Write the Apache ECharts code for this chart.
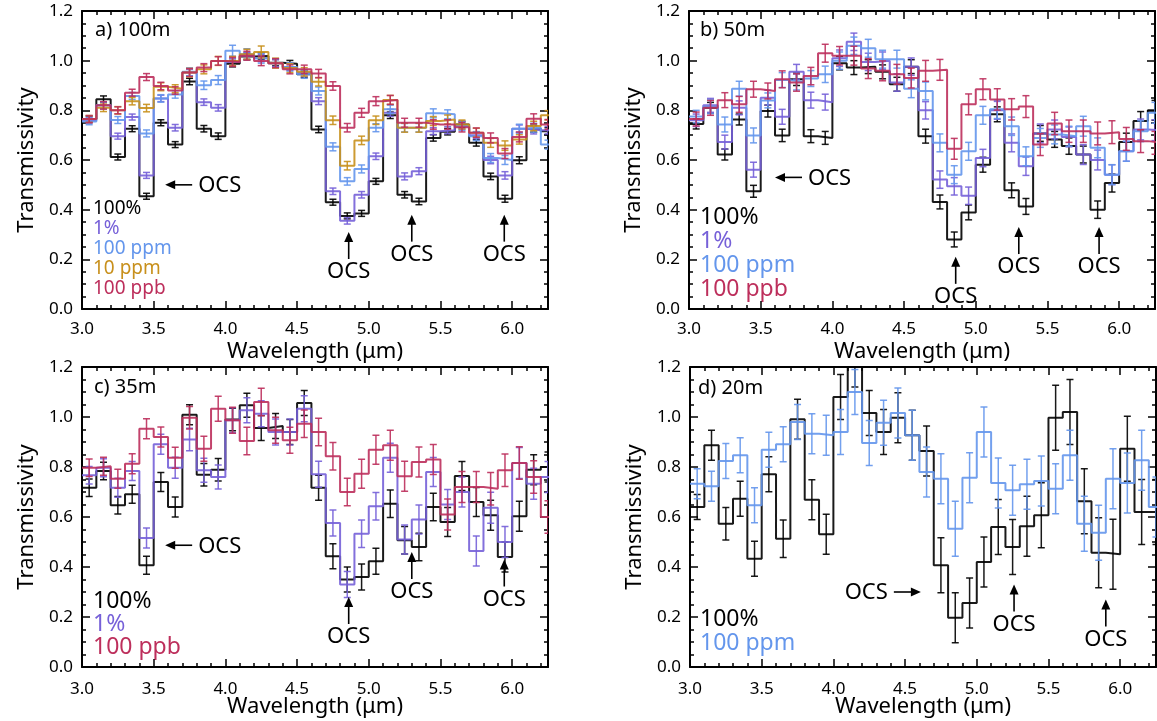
<!DOCTYPE html>
<html><head><meta charset="utf-8">
<script src="https://cdn.jsdelivr.net/npm/echarts@6/dist/echarts.min.js"></script>
<style>html,body{margin:0;padding:0;background:#fff}#c{width:1157px;height:721px}</style>
</head><body><div id="c"></div><script>
// ---------- DATA ----------
const binCenters = [3.05,3.15,3.25,3.35,3.45,3.55,3.65,3.75,3.85,3.95,
  4.05,4.15,4.25,4.35,4.45,4.55,4.65,4.75,4.85,4.95,
  5.05,5.15,5.25,5.35,5.45,5.55,5.65,5.75,5.85,5.95,
  6.05,6.15,6.25];
const binWidth = 0.1;
const xTicks = [3.0,3.5,4.0,4.5,5.0,5.5,6.0];
const yTicks = [0.0,0.2,0.4,0.6,0.8,1.0,1.2];
const panelTitles = ['a) 100m','b) 50m','c) 35m','d) 20m'];

// panel a (100 m)
const a_100pct = [0.765,0.845,0.612,0.726,0.454,0.750,0.662,0.916,0.726,0.696,
  0.988,1.017,1.019,0.992,0.988,0.945,0.723,0.430,0.375,0.385,
  0.514,0.780,0.460,0.433,0.689,0.714,0.743,0.669,0.534,0.444,
  0.599,0.726,0.716];
const a_1pct = [0.760,0.820,0.696,0.773,0.538,0.848,0.730,0.952,0.833,0.810,
  0.995,1.020,1.010,0.990,0.975,0.950,0.837,0.474,0.355,0.460,
  0.615,0.790,0.534,0.555,0.716,0.720,0.737,0.700,0.600,0.538,
  0.726,0.720,0.720];
const a_100ppm = [0.755,0.820,0.761,0.858,0.707,0.848,0.864,0.955,0.901,0.922,
  1.040,1.026,1.010,0.990,0.975,0.945,0.878,0.653,0.514,0.564,
  0.730,0.804,0.730,0.730,0.788,0.784,0.737,0.696,0.608,0.600,
  0.726,0.730,0.662];
const a_10ppm = [0.765,0.810,0.800,0.837,0.809,0.895,0.887,0.952,0.965,0.999,
  0.999,1.026,1.035,0.990,0.970,0.955,0.915,0.760,0.577,0.679,
  0.760,0.842,0.730,0.730,0.757,0.763,0.743,0.710,0.669,0.658,
  0.683,0.737,0.780];
const a_100ppb = [0.765,0.820,0.800,0.871,0.934,0.898,0.880,0.952,0.972,0.999,
  0.995,1.020,0.999,0.990,0.965,0.965,0.948,0.898,0.730,0.790,
  0.837,0.842,0.750,0.750,0.743,0.743,0.732,0.710,0.689,0.626,
  0.693,0.766,0.743];
const a_100pct_err = [0.012,0.013,0.012,0.012,0.012,0.012,0.012,0.013,0.013,0.013,
  0.013,0.013,0.013,0.013,0.013,0.013,0.013,0.012,0.012,0.012,
  0.012,0.013,0.013,0.013,0.013,0.013,0.013,0.013,0.013,0.014,
  0.014,0.014,0.014];
const a_1pct_err = [0.012,0.013,0.012,0.012,0.012,0.013,0.013,0.013,0.013,0.013,
  0.014,0.014,0.014,0.014,0.014,0.014,0.014,0.013,0.013,0.013,
  0.013,0.014,0.014,0.014,0.014,0.014,0.014,0.014,0.015,0.015,
  0.015,0.015,0.015];
const a_100ppm_err = [0.013,0.014,0.014,0.014,0.014,0.015,0.015,0.016,0.017,0.018,
  0.022,0.022,0.020,0.018,0.017,0.016,0.016,0.016,0.015,0.016,
  0.016,0.017,0.017,0.017,0.018,0.018,0.018,0.018,0.018,0.018,
  0.018,0.018,0.018];
const a_10ppm_err = [0.014,0.015,0.015,0.015,0.015,0.016,0.016,0.017,0.018,0.018,
  0.018,0.020,0.024,0.020,0.018,0.017,0.017,0.017,0.017,0.017,
  0.017,0.018,0.018,0.018,0.018,0.018,0.018,0.018,0.018,0.019,
  0.019,0.019,0.019];
const a_100ppb_err = [0.014,0.015,0.014,0.014,0.014,0.015,0.015,0.016,0.016,0.017,
  0.018,0.018,0.019,0.018,0.018,0.017,0.017,0.017,0.017,0.018,
  0.018,0.018,0.018,0.018,0.019,0.019,0.019,0.019,0.020,0.020,
  0.020,0.020,0.020];

// panel b (50 m)
const b_100pct = [0.745,0.810,0.622,0.763,0.474,0.797,0.699,0.925,0.696,0.689,
  0.990,0.972,0.976,0.955,0.905,0.976,0.696,0.431,0.280,0.389,
  0.581,0.784,0.478,0.413,0.707,0.683,0.656,0.622,0.400,0.507,
  0.672,0.757,0.800];
const b_1pct = [0.760,0.820,0.672,0.810,0.561,0.851,0.774,0.955,0.841,0.833,
  1.010,1.076,0.995,1.000,0.912,0.976,0.800,0.521,0.494,0.456,
  0.608,0.800,0.669,0.575,0.707,0.723,0.693,0.622,0.600,0.541,
  0.635,0.723,0.720];
const b_100ppm = [0.775,0.815,0.743,0.887,0.699,0.840,0.922,0.914,0.928,0.945,
  1.000,1.060,1.050,1.006,1.006,0.887,0.878,0.669,0.541,0.635,
  0.780,0.804,0.736,0.615,0.689,0.703,0.696,0.736,0.649,0.541,
  0.635,0.716,0.790];
const b_100ppb = [0.765,0.810,0.841,0.824,0.885,0.878,0.925,0.912,0.938,1.030,
  1.020,1.020,0.968,0.959,0.945,0.930,0.959,0.963,0.645,0.824,
  0.885,0.844,0.804,0.815,0.662,0.747,0.716,0.716,0.707,0.712,
  0.685,0.676,0.669];
const b_100pct_err = [0.020,0.022,0.022,0.022,0.024,0.024,0.025,0.025,0.026,0.026,
  0.027,0.028,0.028,0.028,0.028,0.028,0.028,0.028,0.030,0.030,
  0.030,0.030,0.030,0.032,0.032,0.032,0.033,0.034,0.035,0.036,
  0.036,0.038,0.040];
const b_1pct_err = [0.025,0.028,0.028,0.028,0.030,0.030,0.030,0.030,0.032,0.032,
  0.033,0.035,0.035,0.035,0.035,0.035,0.035,0.035,0.035,0.035,
  0.035,0.036,0.036,0.037,0.038,0.038,0.040,0.040,0.040,0.040,
  0.040,0.042,0.042];
const b_100ppm_err = [0.025,0.028,0.030,0.030,0.030,0.030,0.030,0.032,0.032,0.033,
  0.035,0.035,0.036,0.036,0.036,0.036,0.036,0.036,0.036,0.036,
  0.036,0.037,0.037,0.038,0.038,0.038,0.040,0.040,0.040,0.040,
  0.040,0.042,0.042];
const b_100ppb_err = [0.028,0.030,0.030,0.032,0.032,0.032,0.034,0.035,0.035,0.036,
  0.037,0.038,0.040,0.040,0.040,0.040,0.042,0.042,0.042,0.042,
  0.042,0.043,0.043,0.044,0.044,0.045,0.045,0.045,0.046,0.046,
  0.046,0.046,0.046];

// panel c (35 m)
const c_100pct = [0.717,0.784,0.647,0.691,0.407,0.740,0.640,1.009,0.769,0.789,
  0.990,1.047,0.956,0.964,0.940,1.056,0.717,0.443,0.350,0.360,
  0.423,0.653,0.507,0.480,0.640,0.580,0.764,0.660,0.607,0.440,
  0.603,0.789,0.800];
const c_1pct = [0.767,0.797,0.717,0.784,0.516,0.891,0.797,0.910,0.787,0.760,
  0.987,1.027,1.013,0.940,0.940,1.033,0.771,0.576,0.330,0.533,
  0.643,0.837,0.510,0.590,0.780,0.650,0.700,0.464,0.637,0.500,
  0.816,0.733,0.760];
const c_100ppb = [0.797,0.803,0.753,0.813,0.953,0.920,0.837,0.997,0.873,1.033,
  0.987,0.904,1.060,0.947,0.907,0.973,0.940,0.843,0.700,0.773,
  0.869,0.887,0.763,0.820,0.830,0.610,0.720,0.720,0.713,0.787,
  0.816,0.760,0.600];
const c_100pct_err = [0.035,0.035,0.035,0.036,0.036,0.038,0.040,0.040,0.045,0.045,
  0.045,0.048,0.050,0.050,0.050,0.050,0.050,0.050,0.050,0.052,
  0.052,0.055,0.055,0.055,0.055,0.058,0.058,0.058,0.060,0.060,
  0.060,0.060,0.060];
const c_1pct_err = [0.035,0.036,0.038,0.038,0.040,0.040,0.042,0.045,0.048,0.048,
  0.050,0.050,0.052,0.052,0.052,0.052,0.052,0.052,0.052,0.055,
  0.055,0.058,0.058,0.058,0.058,0.060,0.060,0.060,0.062,0.062,
  0.062,0.062,0.062];
const c_100ppb_err = [0.035,0.036,0.038,0.040,0.040,0.040,0.042,0.045,0.050,0.050,
  0.052,0.055,0.055,0.052,0.052,0.055,0.055,0.055,0.055,0.058,
  0.058,0.060,0.060,0.060,0.060,0.062,0.062,0.062,0.065,0.065,
  0.065,0.065,0.065];

// panel d (20 m)
const d_100pct = [0.640,0.887,0.573,0.673,0.433,0.771,0.513,0.991,0.669,0.531,
  1.080,1.220,1.016,0.940,0.997,0.927,0.864,0.407,0.197,0.256,
  0.420,0.560,0.480,0.563,0.607,0.997,1.020,0.663,0.457,0.451,
  0.873,0.620,0.620];
const d_100ppm = [0.733,0.723,0.824,0.847,0.647,0.869,0.891,0.980,0.933,0.927,
  0.940,1.100,0.896,0.977,1.016,0.927,0.780,0.753,0.553,0.757,
  0.940,0.736,0.707,0.731,0.744,0.713,0.847,0.573,0.537,0.753,
  0.736,0.827,0.640];
const d_100pct_err = [0.050,0.060,0.065,0.070,0.070,0.070,0.075,0.080,0.080,0.080,
  0.090,0.100,0.090,0.090,0.100,0.100,0.100,0.110,0.100,0.100,
  0.100,0.110,0.110,0.120,0.130,0.130,0.130,0.130,0.140,0.140,
  0.130,0.130,0.130];
const d_100ppm_err = [0.060,0.060,0.070,0.070,0.070,0.070,0.070,0.070,0.080,0.080,
  0.090,0.090,0.090,0.090,0.100,0.100,0.100,0.100,0.110,0.100,
  0.100,0.100,0.100,0.100,0.100,0.100,0.100,0.110,0.110,0.120,
  0.120,0.120,0.120];

// OCS annotations: [wavelength, transmissivity at arrow tip, direction 0=up 1=left 2=right]
const a_ocs = [[3.58,0.50,1],[4.86,0.31,0],[5.30,0.38,0],[5.945,0.38,0]];
const b_ocs = [[3.60,0.53,1],[4.86,0.21,0],[5.30,0.33,0],[5.86,0.33,0]];
const c_ocs = [[3.58,0.487,1],[4.86,0.28,0],[5.30,0.46,0],[5.945,0.43,0]];
const d_ocs = [[4.61,0.30,2],[5.26,0.33,0],[5.90,0.27,0]];

// ---------- STYLE ----------
const COL = {black:'#000000', purple:'#7660d8', blue:'#6496ec', orange:'#c8901c', red:'#bd2f5c'};
const FONT = '"Noto Sans", "Open Sans", sans-serif';

const panels = [
  {grid:{left:82, top:11, width:466, height:298}, title:[95,33,20], labMargin:12, nameGap:32,
   legendX:93, legendY:[211,231,251,271,291], legendSize:19, ocs:a_ocs,
   series:[
    {name:'100%', color:COL.black, v:a_100pct, e:a_100pct_err},
    {name:'1%', color:COL.purple, v:a_1pct, e:a_1pct_err},
    {name:'100 ppm', color:COL.blue, v:a_100ppm, e:a_100ppm_err},
    {name:'10 ppm', color:COL.orange, v:a_10ppm, e:a_10ppm_err},
    {name:'100 ppb', color:COL.red, v:a_100ppb, e:a_100ppb_err}]},
  {grid:{left:689, top:11, width:466, height:298}, title:[700,33,20], labMargin:12, nameGap:32,
   legendX:700, legendY:[220,244,268,292], legendSize:23, ocs:b_ocs,
   series:[
    {name:'100%', color:COL.black, v:b_100pct, e:b_100pct_err},
    {name:'1%', color:COL.purple, v:b_1pct, e:b_1pct_err},
    {name:'100 ppm', color:COL.blue, v:b_100ppm, e:b_100ppm_err},
    {name:'100 ppb', color:COL.red, v:b_100ppb, e:b_100ppb_err}]},
  {grid:{left:82, top:367, width:466, height:300}, title:[94,390,20], labMargin:14, nameGap:29,
   legendX:93, legendY:[604,627,650], legendSize:23, ocs:c_ocs,
   series:[
    {name:'100%', color:COL.black, v:c_100pct, e:c_100pct_err},
    {name:'1%', color:COL.purple, v:c_1pct, e:c_1pct_err},
    {name:'100 ppb', color:COL.red, v:c_100ppb, e:c_100ppb_err}]},
  {grid:{left:690, top:367, width:466, height:300}, title:[698,391,20], labMargin:14, nameGap:29,
   legendX:700, legendY:[622,646], legendSize:23, ocs:d_ocs,
   series:[
    {name:'100%', color:COL.black, v:d_100pct, e:d_100pct_err},
    {name:'100 ppm', color:COL.blue, v:d_100ppm, e:d_100ppm_err}]}
];

function isTick(v, list){ return list.some(t => Math.abs(t - v) < 1e-6); }

const grids=[], xAxes=[], yAxes=[], series=[], graphics=[];

function errRender(color){
  return function(params, api){
    const x=api.value(0), lo=api.value(1), hi=api.value(2);
    const p1=api.coord([x,lo]), p2=api.coord([x,hi]);
    const cw=3.5;
    const st={stroke:color, lineWidth:1.5, opacity:0.9};
    return {type:'group', children:[
      {type:'line', shape:{x1:p1[0],y1:p1[1],x2:p2[0],y2:p2[1]}, style:st},
      {type:'line', shape:{x1:p1[0]-cw,y1:p1[1],x2:p1[0]+cw,y2:p1[1]}, style:st},
      {type:'line', shape:{x1:p2[0]-cw,y1:p2[1],x2:p2[0]+cw,y2:p2[1]}, style:st}
    ]};
  };
}

function ocsRender(params, api){
  const p=api.coord([api.value(0), api.value(1)]);
  const d=api.value(2);
  const L=27, hw=4.5, hl=10;
  const st={stroke:'#000', lineWidth:1.6};
  const font='22px '+FONT;
  const ch=[];
  if(d===0){
    ch.push({type:'line', shape:{x1:p[0],y1:p[1]+hl-1,x2:p[0],y2:p[1]+L}, style:st});
    ch.push({type:'polygon', shape:{points:[[p[0],p[1]],[p[0]-hw,p[1]+hl],[p[0]+hw,p[1]+hl]]}, style:{fill:'#000'}});
    ch.push({type:'text', style:{text:'OCS', x:p[0], y:p[1]+L+2, align:'center', verticalAlign:'top', font:font, fill:'#000'}});
  } else if(d===1){
    ch.push({type:'line', shape:{x1:p[0]+hl-1,y1:p[1],x2:p[0]+L,y2:p[1]}, style:st});
    ch.push({type:'polygon', shape:{points:[[p[0],p[1]],[p[0]+hl,p[1]-hw],[p[0]+hl,p[1]+hw]]}, style:{fill:'#000'}});
    ch.push({type:'text', style:{text:'OCS', x:p[0]+L+6, y:p[1]+1, align:'left', verticalAlign:'middle', font:font, fill:'#000'}});
  } else {
    ch.push({type:'line', shape:{x1:p[0]-hl+1,y1:p[1],x2:p[0]-L,y2:p[1]}, style:st});
    ch.push({type:'polygon', shape:{points:[[p[0],p[1]],[p[0]-hl,p[1]-hw],[p[0]-hl,p[1]+hw]]}, style:{fill:'#000'}});
    ch.push({type:'text', style:{text:'OCS', x:p[0]-L-6, y:p[1]+1, align:'right', verticalAlign:'middle', font:font, fill:'#000'}});
  }
  return {type:'group', children:ch};
}

const axisLineStyle = {color:'#000', width:2};
const tickStyle = {color:'#000', width:1.5};

panels.forEach((pn, g) => {
  grids.push(Object.assign({containLabel:false, outerBoundsMode:'none'}, pn.grid));
  const xBase = {gridIndex:g, type:'value', min:3.0, max:6.25, interval:0.5,
    axisLine:{show:true, onZero:false, lineStyle:axisLineStyle},
    axisTick:{show:true, inside:true, length:8, lineStyle:tickStyle},
    minorTick:{show:true, splitNumber:5, length:4, lineStyle:tickStyle},
    splitLine:{show:false}};
  xAxes.push(Object.assign({}, xBase, {position:'bottom',
    name:'Wavelength (\u03bcm)', nameLocation:'middle', nameGap:pn.nameGap, nameMoveOverlap:false,
    nameTextStyle:{fontSize:22, fontFamily:FONT, color:'#000'},
    axisLabel:{show:true, fontSize:17, fontFamily:FONT, color:'#000', margin:pn.labMargin, showMaxLabel:false,
      formatter:v => isTick(v, xTicks) ? v.toFixed(1) : ''}}));
  xAxes.push(Object.assign({}, xBase, {position:'top', axisLabel:{show:false}}));
  const yBase = {gridIndex:g, type:'value', min:0, max:1.2, interval:0.2,
    axisLine:{show:true, onZero:false, lineStyle:axisLineStyle},
    axisTick:{show:true, inside:true, length:8, lineStyle:tickStyle},
    minorTick:{show:true, splitNumber:4, length:4, lineStyle:tickStyle},
    splitLine:{show:false}};
  yAxes.push(Object.assign({}, yBase, {position:'left',
    name:'Transmissivity', nameLocation:'middle', nameGap:44, nameMoveOverlap:false,
    nameTextStyle:{fontSize:22, fontFamily:FONT, color:'#000'},
    axisLabel:{show:true, fontSize:17, fontFamily:FONT, color:'#000', margin:9,
      formatter:v => isTick(v, yTicks) ? v.toFixed(1) : ''}}));
  yAxes.push(Object.assign({}, yBase, {position:'right', axisLabel:{show:false}}));

  pn.series.forEach((s, k) => {
    const step=[];
    s.v.forEach((val,i)=>{
      step.push([binCenters[i]-binWidth/2, val]);
      step.push([binCenters[i]+binWidth/2, val]);
    });
    series.push({type:'line', name:s.name, xAxisIndex:2*g, yAxisIndex:2*g, data:step,
      showSymbol:false, symbol:'none', clip:true, animation:false, z:2+k,
      lineStyle:{color:s.color, width:2, opacity:0.9}});
    series.push({type:'custom', xAxisIndex:2*g, yAxisIndex:2*g, clip:true, animation:false, z:2+k,
      data:binCenters.map((x,i)=>[x, s.v[i]-s.e[i], s.v[i]+s.e[i]]),
      renderItem:errRender(s.color)});
    graphics.push({type:'text', left:pn.legendX, top:pn.legendY[k]-pn.legendSize*0.62,
      style:{text:s.name, fill:s.color, font:pn.legendSize+'px '+FONT}});
  });
  series.push({type:'custom', xAxisIndex:2*g, yAxisIndex:2*g, clip:false, animation:false, z:20,
    data:pn.ocs, renderItem:ocsRender});
  graphics.push({type:'text', left:pn.title[0], top:pn.title[1]-pn.title[2]*0.62,
    style:{text:panelTitles[g], fill:'#000', font:pn.title[2]+'px '+FONT}});
});

const chart = echarts.init(document.getElementById('c'), null, {renderer:'canvas'});
chart.setOption({
  animation:false, backgroundColor:'#fff',
  grid:grids, xAxis:xAxes, yAxis:yAxes, series:series, graphic:graphics
});
</script></body></html>
